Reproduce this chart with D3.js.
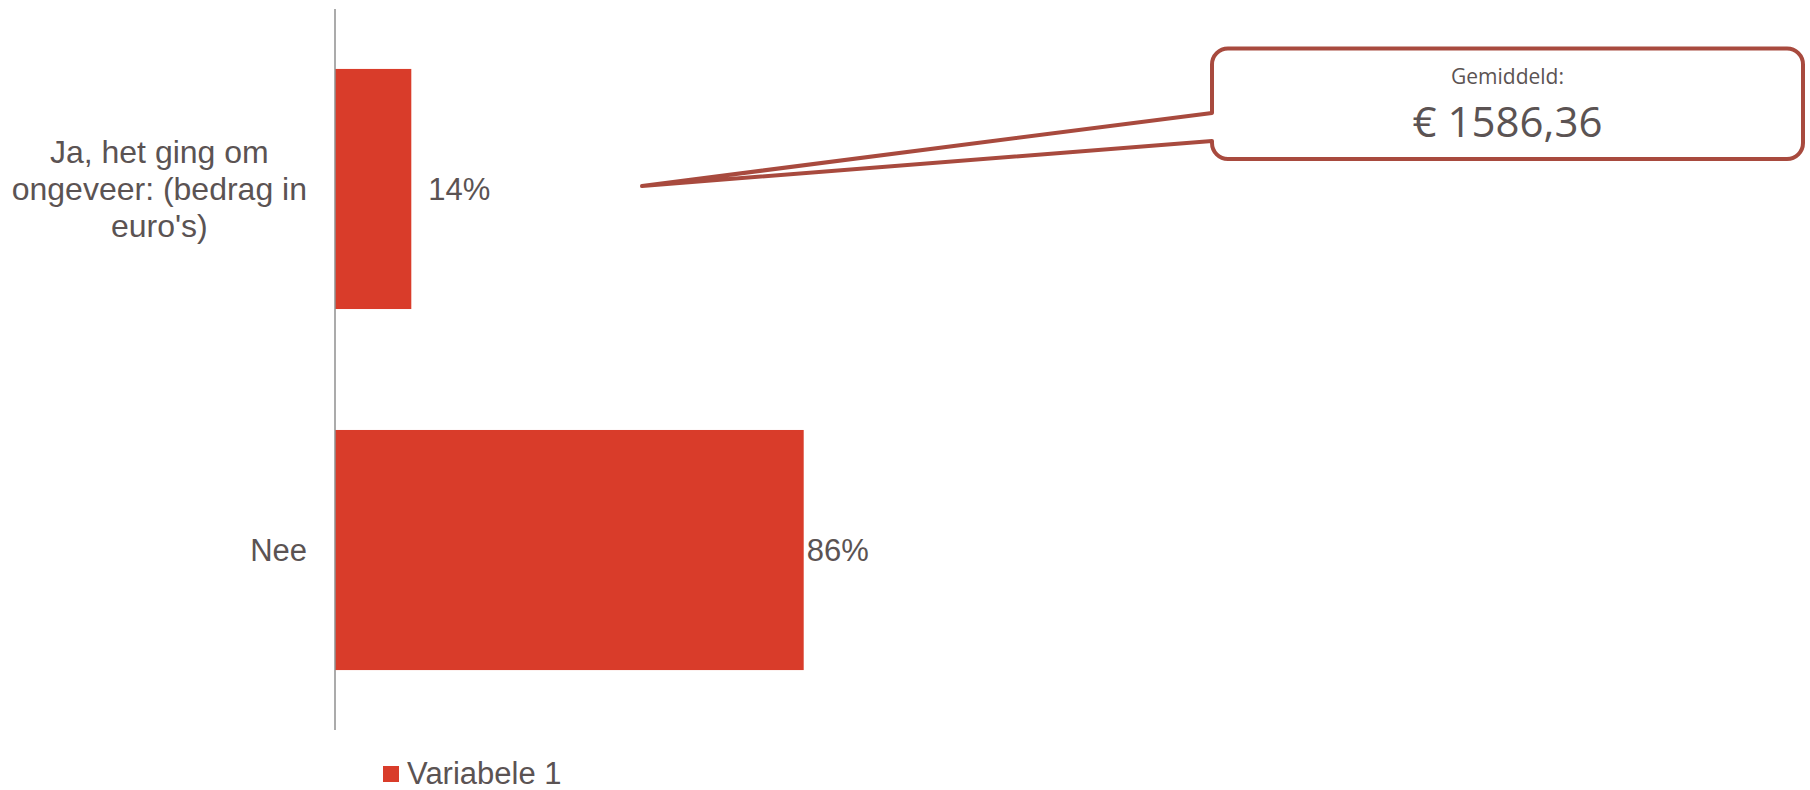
<!DOCTYPE html>
<html>
<head>
<meta charset="utf-8">
<script src="https://cdn.jsdelivr.net/npm/d3@7"></script>
<style>
  html, body { margin: 0; padding: 0; background: #ffffff; }
  svg { display: block; }
</style>
</head>
<body>
<svg id="chart" width="1810" height="790"></svg>
<script>
// ---- data ----
const categories = ["Ja, het ging om ongeveer: (bedrag in euro's)", "Nee"];
const categoryLines = [["Ja, het ging om", "ongeveer: (bedrag in", "euro's)"], ["Nee"]];
const values = [0.14, 0.86];
const valueLabels = ["14%", "86%"];
const seriesName = "Variabele 1";
const calloutTitle = "Gemiddeld:";
const calloutValue = "€ 1586,36";

// ---- styles ----
const barColor = "#d93c2a";
const textColor = "#5b5353";
const calloutColor = "#a84a3e";
const axisColor = "#8f8f8f";
const font = "'Liberation Sans', Arial, sans-serif";

const svg = d3.select("#chart");

const x = d3.scaleLinear().domain([0, 1]).range([335, 880]);
const y = d3.scaleBand().domain(categories).range([9, 730]).paddingInner(0.335).paddingOuter(0.166);

// bars
svg.selectAll("rect.bar")
  .data(categories)
  .join("rect")
  .attr("class", "bar")
  .attr("x", x(0))
  .attr("y", d => y(d))
  .attr("width", (d, i) => x(values[i]) - x(0))
  .attr("height", y.bandwidth())
  .attr("fill", barColor);

// vertical category axis line
svg.append("line")
  .attr("x1", x(0)).attr("x2", x(0))
  .attr("y1", 9).attr("y2", 730)
  .attr("stroke", axisColor)
  .attr("stroke-width", 1.5);

// category labels (block right-aligned to axis, lines centred within block)
const lineH = 37;
const labelRight = x(0) - 28;
categories.forEach((c, i) => {
  const lines = categoryLines[i];
  const g = svg.append("g");
  const cy = y(c) + y.bandwidth() / 2;
  const texts = lines.map((t, k) => g.append("text")
    .attr("y", cy + (k - (lines.length - 1) / 2) * lineH)
    .attr("dy", "0.35em")
    .attr("text-anchor", "middle")
    .attr("font-family", font)
    .attr("font-size", lines.length > 1 ? 32 : 31)
    .attr("fill", textColor)
    .text(t));
  const maxW = d3.max(texts, t => t.node().getComputedTextLength());
  texts.forEach(t => t.attr("x", labelRight - maxW / 2));
});

// value labels
const labelNudge = [17, 3];
svg.selectAll("text.val")
  .data(categories)
  .join("text")
  .attr("class", "val")
  .attr("x", (d, i) => x(values[i]) + labelNudge[i])
  .attr("y", d => y(d) + y.bandwidth() / 2)
  .attr("dy", "0.35em")
  .attr("font-family", font)
  .attr("font-size", 31)
  .attr("fill", textColor)
  .text((d, i) => valueLabels[i]);

// legend
svg.append("rect")
  .attr("x", 383).attr("y", 766).attr("width", 16).attr("height", 16)
  .attr("fill", barColor);
svg.append("text")
  .attr("x", 407).attr("y", 773)
  .attr("dy", "0.35em")
  .attr("font-family", font)
  .attr("font-size", 31)
  .attr("fill", textColor)
  .text(seriesName);

// callout with pointer
const bx0 = 1212, bx1 = 1803, by0 = 48.5, by1 = 159, r = 16;
const tipX = 642, tipY = 186, attachTop = 113, attachBot = 141;
const p = d3.path();
p.moveTo(bx0 + r, by0);
p.lineTo(bx1 - r, by0);
p.arcTo(bx1, by0, bx1, by0 + r, r);
p.lineTo(bx1, by1 - r);
p.arcTo(bx1, by1, bx1 - r, by1, r);
p.lineTo(bx0 + r, by1);
p.arcTo(bx0, by1, bx0, by1 - r, r);
p.lineTo(bx0, attachBot);
p.lineTo(tipX, tipY);
p.lineTo(bx0, attachTop);
p.lineTo(bx0, by0 + r);
p.arcTo(bx0, by0, bx0 + r, by0, r);
p.closePath();
svg.append("path")
  .attr("d", p.toString())
  .attr("fill", "#ffffff")
  .attr("stroke", calloutColor)
  .attr("stroke-width", 4)
  .attr("stroke-linejoin", "round");

const cx = (bx0 + bx1) / 2;
svg.append("text")
  .attr("x", cx).attr("y", 77)
  .attr("dy", "0.35em")
  .attr("text-anchor", "middle")
  .attr("font-family", "'Open Sans', sans-serif")
  .attr("font-size", 21)
  .attr("fill", textColor)
  .text(calloutTitle);
svg.append("text")
  .attr("x", cx).attr("y", 122)
  .attr("dy", "0.35em")
  .attr("text-anchor", "middle")
  .attr("font-family", "'Open Sans', sans-serif")
  .attr("font-size", 42)
  .attr("fill", textColor)
  .text(calloutValue);
</script>
</body>
</html>
